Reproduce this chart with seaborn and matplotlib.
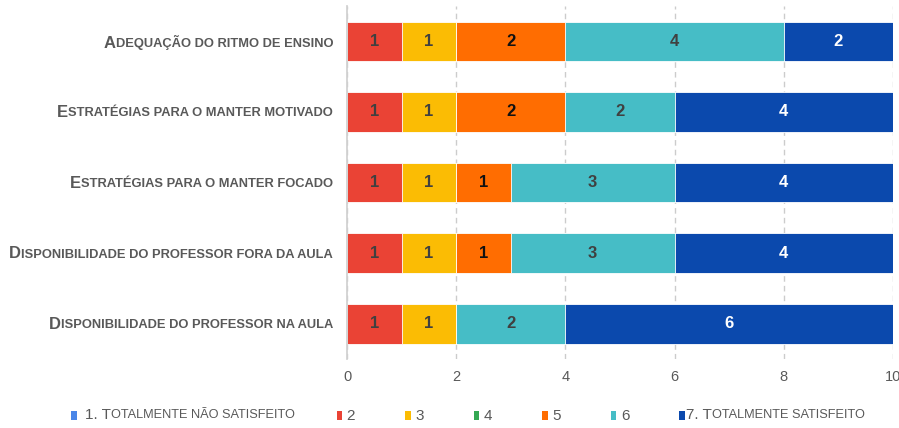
import pandas as pd
import seaborn as sns
import matplotlib.pyplot as plt
from matplotlib.patches import Patch

categories = [
    "Adequação do ritmo de ensino",
    "Estratégias para o manter motivado",
    "Estratégias para o manter focado",
    "Disponibilidade do professor fora da aula",
    "Disponibilidade do professor na aula",
]
levels = ["1. Totalmente não satisfeito", "2", "3", "4", "5", "6",
          "7. Totalmente satisfeito"]
n1 = [0, 0, 0, 0, 0]
n2 = [1, 1, 1, 1, 1]
n3 = [1, 1, 1, 1, 1]
n4 = [0, 0, 0, 0, 0]
n5 = [2, 2, 1, 1, 0]
n6 = [4, 2, 3, 3, 2]
n7 = [2, 4, 4, 4, 6]
colors = ["#4A86E8", "#EA4335", "#FBBC04", "#34A853", "#FF6D01", "#46BDC6", "#0B49AD"]
xticks = [0, 2, 4, 6, 8, 10]

grey = "#595959"

df = pd.DataFrame(dict(zip(levels, [n1, n2, n3, n4, n5, n6, n7])), index=categories)
cum = df.cumsum(axis=1)

sns.set_theme(style="white")
plt.rcParams["font.family"] = ["Liberation Sans", "DejaVu Sans"]

fig = plt.figure(figsize=(8.99, 4.28), dpi=100)
ax = fig.add_axes([0.386, 0.161, 0.6073, 0.825])

# stacked bars: draw cumulative totals from the last level down
for lev, col in reversed(list(zip(levels, colors))):
    sns.barplot(x=cum[lev].values, y=categories, color=col, orient="h",
                width=0.56, saturation=1, edgecolor="white", linewidth=0.6,
                ax=ax, zorder=2)

for i, cat in enumerate(categories):
    for lev, col in zip(levels, colors):
        v = df.loc[cat, lev]
        if v > 0:
            mid = cum.loc[cat, lev] - v / 2
            tc = "white" if col == colors[6] else ("#111111" if col == colors[4] else "#404040")
            ax.text(mid, i, str(v), ha="center", va="center", fontsize=12,
                    fontweight="bold", color=tc, zorder=5)

ax.set_xlim(0, 10)
ax.set_ylim(4.5, -0.5)
ax.set_xticks(xticks)
ax.set_xticklabels([str(t) for t in xticks], fontsize=10.5, color=grey)
ax.set_xlabel("")
ax.set_ylabel("")
ax.grid(axis="x", color="#CCCCCC", linestyle=(0, (4, 3)), linewidth=1)
ax.grid(axis="y", visible=False)
ax.set_axisbelow(True)
for s in ["top", "right", "bottom"]:
    ax.spines[s].set_visible(False)
ax.spines["left"].set_color("#D0D0D0")
ax.tick_params(axis="both", length=0)
ax.tick_params(axis="y", pad=10)
ax.tick_params(axis="x", pad=8)


def split_caps(s):
    # small caps: everything before the first lowercase letter stays big
    for k, ch in enumerate(s):
        if ch.islower():
            return s[:k], s[k:].upper()
    return s, ""


parts = [split_caps(c) for c in categories]
ax.set_yticks(range(len(categories)))
ax.set_yticklabels([p[1] for p in parts], fontsize=9.3, fontweight="bold", color=grey)

handles = [Patch(facecolor=c, edgecolor="none") for c in colors]
leg_parts = [split_caps(l) for l in levels]
leg_fs = 9.2
leg = fig.legend(handles, [p[0] + p[1] for p in leg_parts], ncol=7, loc="center",
                 bbox_to_anchor=(0.52, 0.028), frameon=False, fontsize=leg_fs,
                 handlelength=0.45, handleheight=0.6, handletextpad=0.35,
                 columnspacing=3.9)

fig.canvas.draw()

for t, (big, rest) in zip(ax.get_yticklabels(), parts):
    ax.annotate(big, xy=(0, 0), xycoords=t, xytext=(-0.3, -0.6),
                textcoords="offset points", ha="right", va="bottom",
                fontsize=12, fontweight="bold", color=grey)

for t, h, (big, rest) in zip(leg.get_texts(), leg.legend_handles, leg_parts):
    if rest:
        t.set_visible(False)
        a1 = ax.annotate(big, xy=(1, 0.5), xycoords=h, xytext=(0.35 * leg_fs, 0),
                         textcoords="offset points", ha="left", va="center",
                         fontsize=11, color=grey, annotation_clip=False)
        ax.annotate(rest, xy=(1, 0), xycoords=a1, xytext=(0, 0.25),
                    textcoords="offset points", ha="left", va="bottom",
                    fontsize=leg_fs, color=grey, annotation_clip=False)
    else:
        t.set_fontsize(11)
        t.set_color(grey)

fig.savefig("out.png", dpi=100)
